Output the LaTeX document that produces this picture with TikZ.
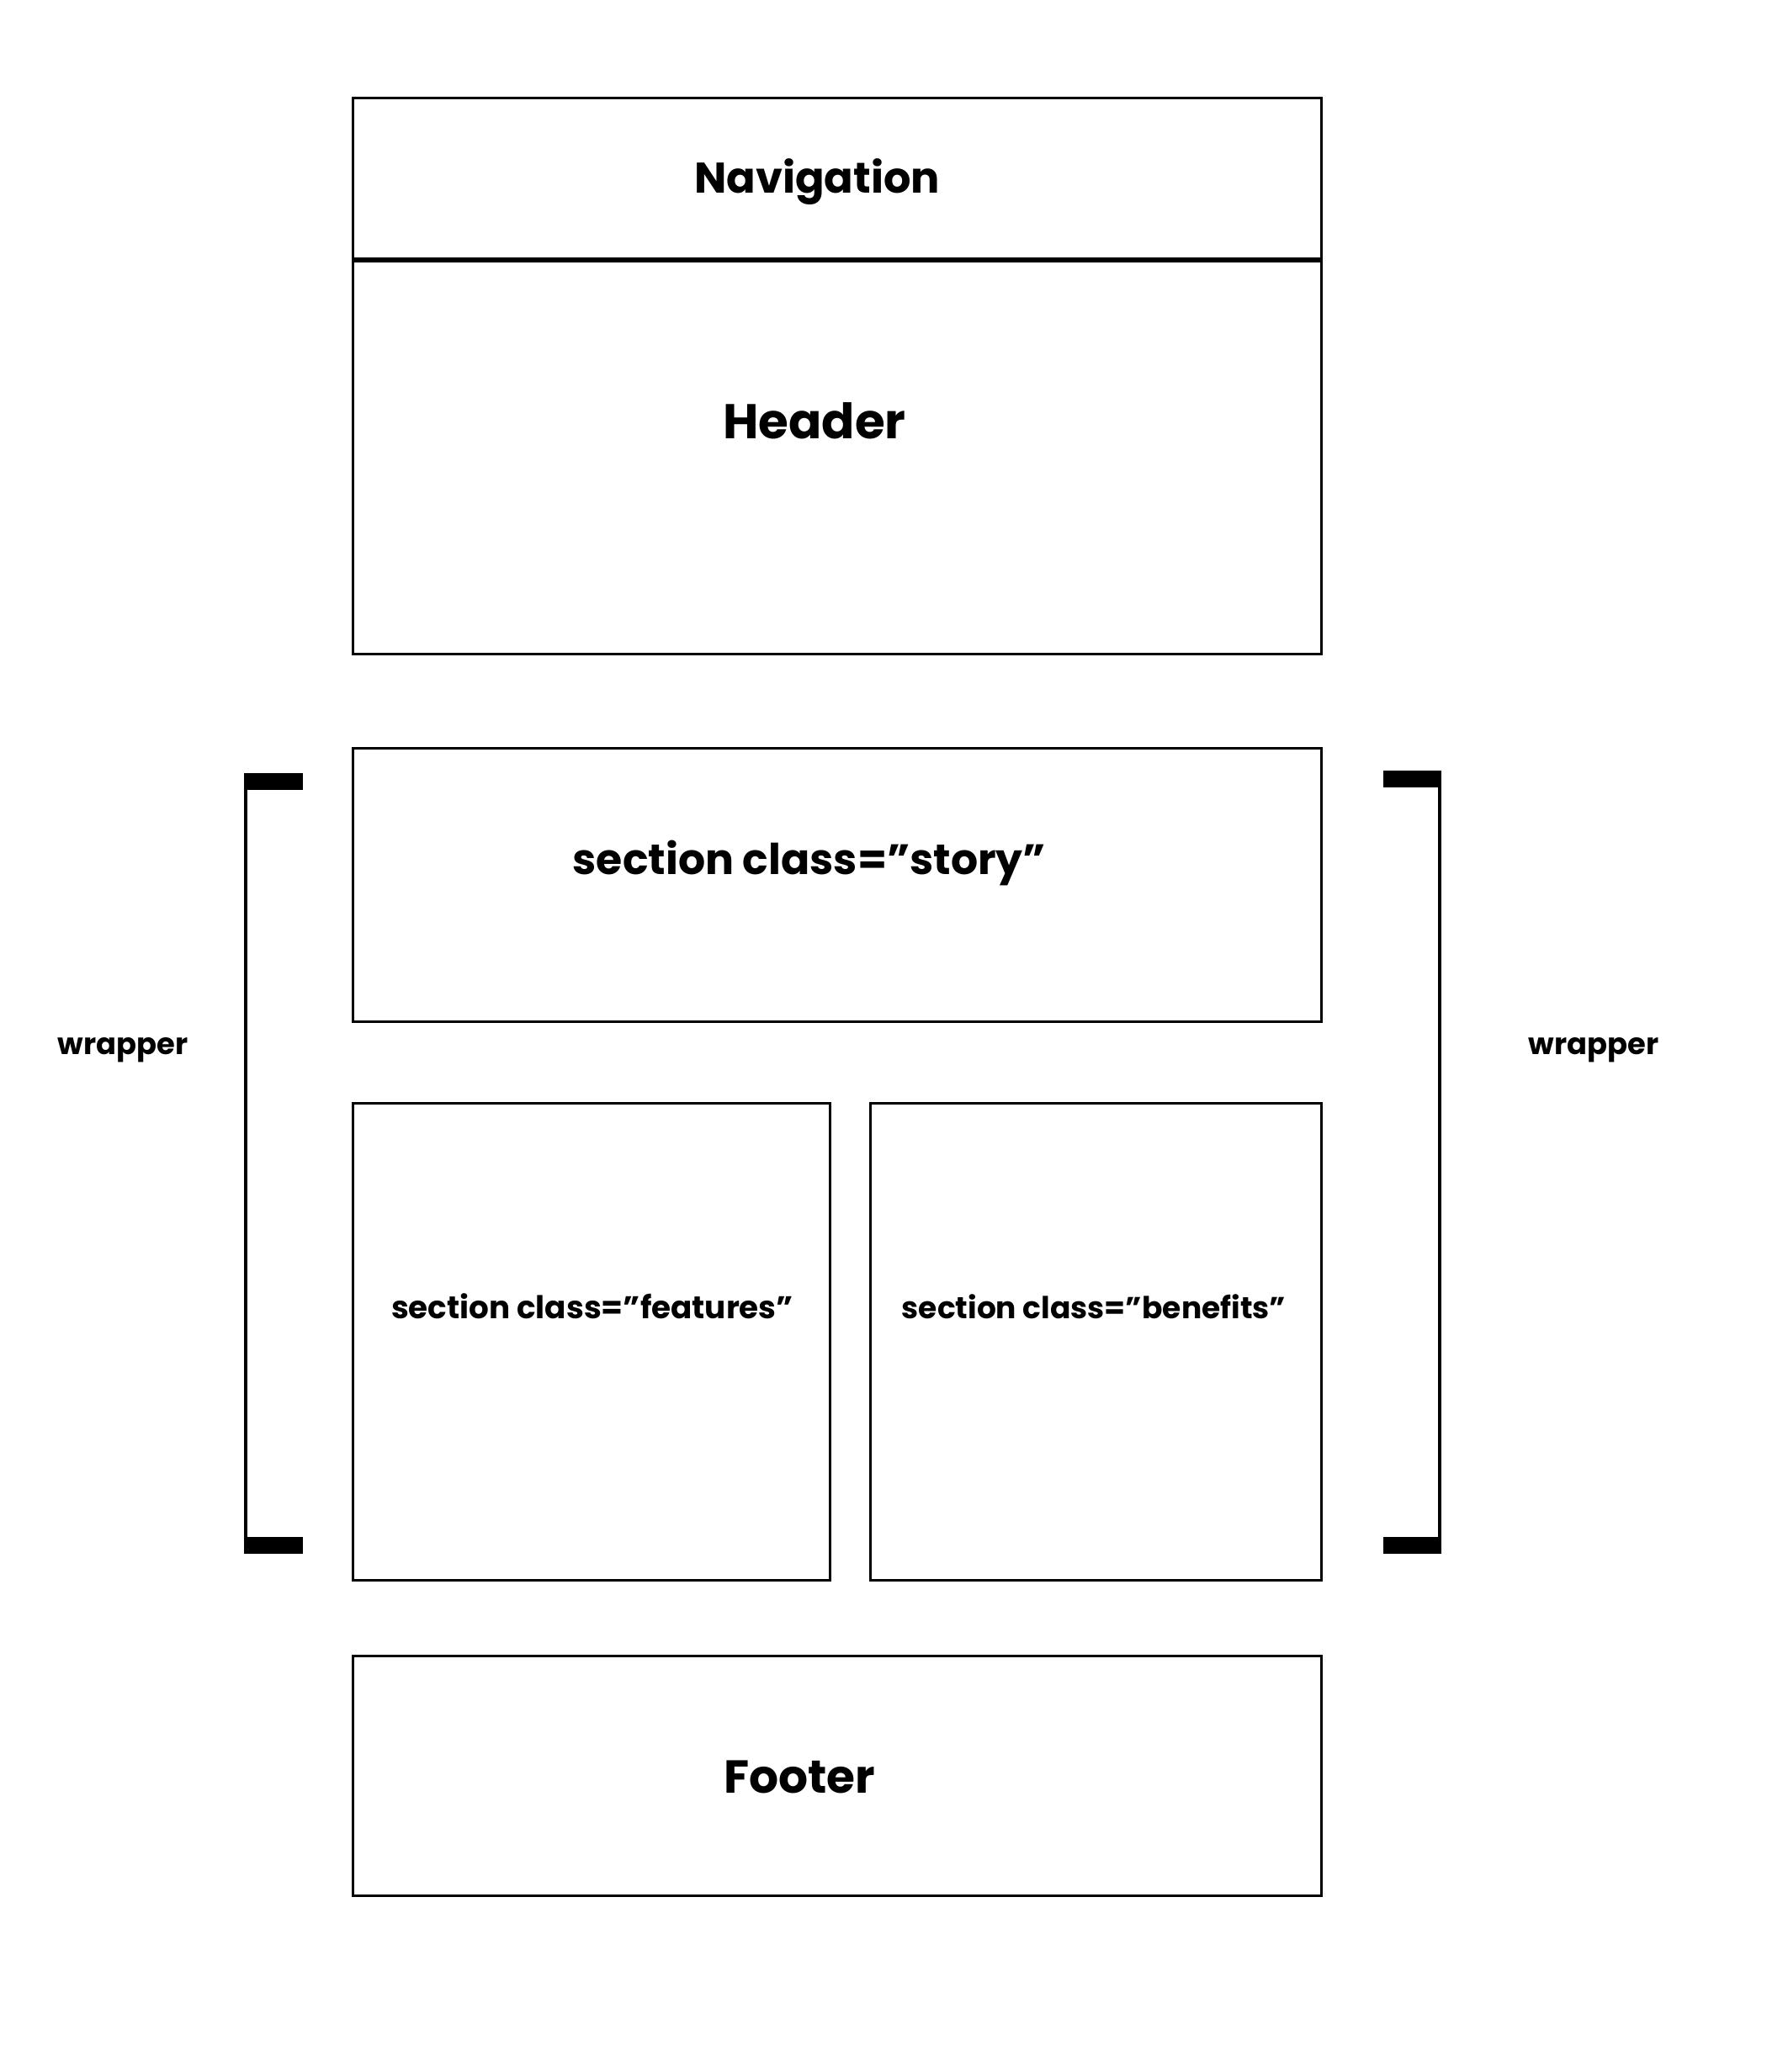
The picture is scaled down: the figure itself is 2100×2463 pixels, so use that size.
\documentclass[tikz,border=0pt]{standalone}
\usepackage{fontspec}
\setmainfont{Poppins}[BoldFont={* Bold}]
\begin{document}
\begin{tikzpicture}[x=1pt,y=-1pt,
  boxe/.style={draw=black,line width=3pt,fill=white,inner sep=0pt,anchor=north west},
  lbl/.style={font=\bfseries,inner sep=0pt,text=black},
  bar/.style={fill=black}]
\fill[white] (0,0) rectangle (2100,2463);
\useasboundingbox (0,0) rectangle (2100,2463);
% boxes
\node[boxe,minimum width=1151pt,minimum height=470pt] (header) at (418,306) {};
\node[boxe,minimum width=1151pt,minimum height=191pt] (nav) at (418,115) {};
\draw[line width=5pt] (nav.south west) -- (nav.south east);
\node[boxe,minimum width=1151pt,minimum height=325pt] (story) at (418,888) {};
\node[boxe,minimum width=567pt,minimum height=567pt] (features) at (418,1310) {};
\node[boxe,minimum width=536pt,minimum height=567pt] (benefits) at (1033,1310) {};
\node[boxe,minimum width=1151pt,minimum height=285pt] (footer) at (418,1967) {};
% labels
\node[lbl,font=\bfseries\fontsize{51}{60}\selectfont] (tnav) at (971,216) {Navigation};
\node[lbl,font=\bfseries\fontsize{58}{66}\selectfont] (thead) at (968,500) {Header};
\node[lbl,font=\bfseries\fontsize{50.5}{58}\selectfont] (tstory) at (962,1026) {section class=”story”};
\node[lbl,font=\bfseries\fontsize{37.3}{42}\selectfont] (tfeat) at (704,1553) {section class=”features”};
\node[lbl,font=\bfseries\fontsize{36}{42}\selectfont] (tben) at (1300,1553) {section class=”benefits”};
\node[lbl,font=\bfseries\fontsize{55}{64}\selectfont] (tfoot) at (950,2112) {Footer};
\node[lbl,font=\bfseries\fontsize{35.3}{40}\selectfont] (wl) at (146,1248) {wrapper};
\node[lbl,font=\bfseries\fontsize{35.3}{40}\selectfont] (wr) at (1894,1248) {wrapper};
% left bracket
\coordinate (lt) at (292,919);
\coordinate (lb) at (292,1847);
\draw[line width=4pt] (lt) -- (lb);
\fill[bar] (290,919) rectangle (360,939);
\fill[bar] (290,1827) rectangle (360,1847);
% right bracket
\coordinate (rt) at (1711,916);
\coordinate (rb) at (1711,1847);
\draw[line width=4pt] (rt) -- (rb);
\fill[bar] (1644,916) rectangle (1713,936);
\fill[bar] (1644,1827) rectangle (1713,1847);
\end{tikzpicture}
\end{document}
